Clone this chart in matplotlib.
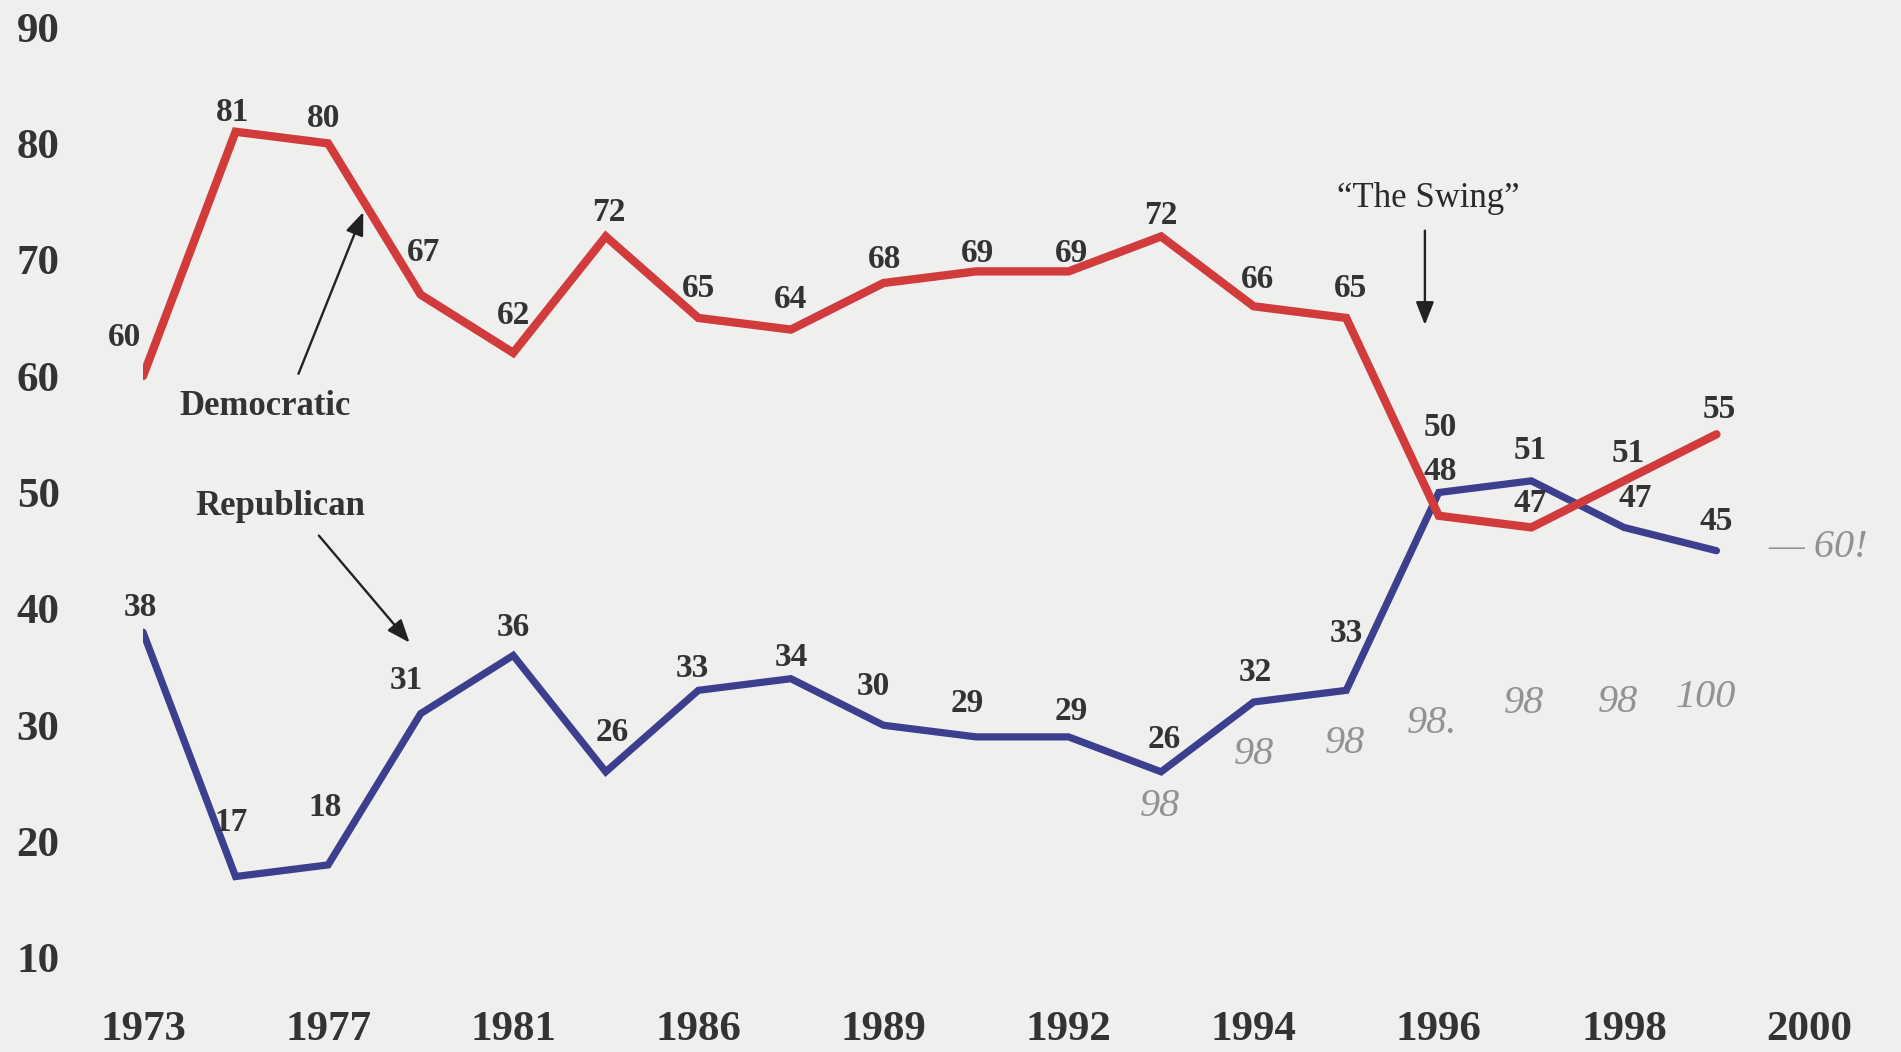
import numpy as np
import matplotlib
matplotlib.use("Agg")
import matplotlib.pyplot as plt

plt.rcParams['font.family'] = ['Liberation Serif', 'DejaVu Serif']

# data
year_labels = ["1973", "1977", "1981", "1986", "1989", "1992", "1994", "1996", "1998", "2000"]
democratic = [60, 81, 80, 67, 62, 72, 65, 64, 68, 69, 69, 72, 66, 65, 48, 47, 51, 55]
republican = [38, 17, 18, 31, 36, 26, 33, 34, 30, 29, 29, 26, 32, 33, 50, 51, 47, 45]
y_ticks = [10, 20, 30, 40, 50, 60, 70, 80, 90]
# handwritten notes (pencil) near the later republican points
notes = ["98", "98", "98", "98.", "98", "98", "100"]
note_idx = [11, 12, 13, 14, 15, 16, 17]

# label offsets in points (dx, dy) -- style only
dem_off = [(-13, 28), (-2, 14), (-3, 18), (2, 30), (0, 27), (2, 17), (0, 21), (0, 22),
           (1, 17), (1, 13), (2, 13), (0, 15), (3, 19), (3, 21), (1, 32), (-1, 17),
           (3, 20), (2, 18)]
rep_off = [(-2, 18), (-3, 39), (-2, 41), (-10, 24), (0, 20), (5, 28), (-4, 16), (0, 15),
           (-7, 28), (-6, 24), (2, 18), (2, 23), (1, 21), (0, 41), (1, 47), (-1, 22),
           (8, 21), (0, 21)]
note_off = [(-1, -25), (0, -38), (-1, -38), (-5, -166), (-5, -160), (-4, -126), (-8, -106)]

W, H = 1901, 1052
bg = '#efefed'
txt = '#333333'
red = '#d23b3c'
blue = '#3b3f8e'
pencil = '#929292'

fig = plt.figure(figsize=(W / 100, H / 100), dpi=100, facecolor=bg)
ax = fig.add_axes([143 / W, 94 / H, (1809 - 143) / W, (958 - 27) / H])
ax.set_facecolor(bg)

x = np.arange(len(democratic))
ax.plot(x, democratic, color=red, lw=6.0, solid_joinstyle='miter', solid_capstyle='round', zorder=3)
ax.plot(x, republican, color=blue, lw=5.2, solid_joinstyle='miter', solid_capstyle='round', zorder=2)

lab_kw = dict(textcoords='offset points', ha='center', va='center', fontsize=24,
              fontweight='bold', color=txt, zorder=5, annotation_clip=False)
for i, v in enumerate(democratic):
    ax.annotate(str(v), (x[i], v), xytext=dem_off[i], **lab_kw)
for i, v in enumerate(republican):
    ax.annotate(str(v), (x[i], v), xytext=rep_off[i], **lab_kw)

ax.set_xlim(0, 18)
ax.set_ylim(10, 90)
ax.set_xticks(np.arange(0, 2 * len(year_labels), 2))
ax.set_xticklabels(year_labels)
ax.set_yticks(y_ticks)
ax.tick_params(axis='both', length=0, labelsize=31, labelcolor=txt)
ax.tick_params(axis='x', pad=38)
ax.tick_params(axis='y', pad=60)
for lbl in ax.get_xticklabels() + ax.get_yticklabels():
    lbl.set_fontweight('bold')
for s in ax.spines.values():
    s.set_visible(False)

# series names and arrows
arrow = dict(arrowstyle='-|>,head_length=1.4,head_width=0.55', color='#222222', lw=1.7,
             shrinkA=0, shrinkB=0)
ax.text(1.32, 57.4, "Democratic", ha='center', va='center', fontsize=25, fontweight='bold', color=txt)
ax.annotate("", xy=(2.38, 74.1), xytext=(1.68, 60.2), arrowprops=arrow)
ax.text(1.48, 48.8, "Republican", ha='center', va='center', fontsize=25, fontweight='bold', color=txt)
ax.annotate("", xy=(2.88, 37.1), xytext=(1.90, 46.3), arrowprops=arrow)
ax.text(13.89, 75.3, "\u201cThe Swing\u201d", ha='center', va='center', fontsize=25, color='#2a2a2a')
ax.annotate("", xy=(13.85, 64.4), xytext=(13.85, 72.5), arrowprops=arrow)

# pencil notes
for j, n in enumerate(notes):
    i = note_idx[j]
    ax.annotate(n, (x[i], republican[i]), xytext=note_off[j], textcoords='offset points',
                ha='center', va='center', fontsize=29, fontstyle='italic', color=pencil,
                annotation_clip=False)
ax.annotate("\u2014 60!", (x[17], republican[17]), xytext=(73, 2), textcoords='offset points',
            ha='center', va='center', fontsize=29, fontstyle='italic', color=pencil,
            annotation_clip=False)

fig.savefig("out.png", dpi=100, facecolor=bg)
